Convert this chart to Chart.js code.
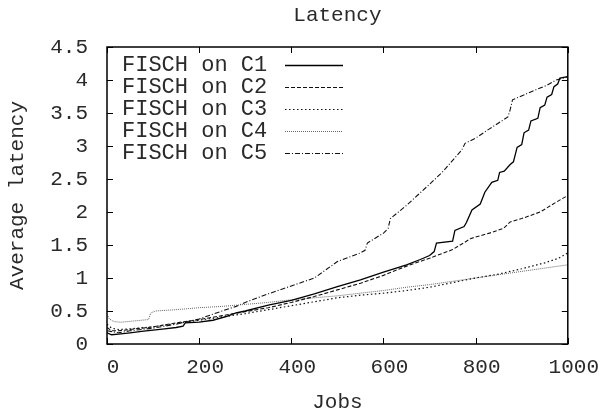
<!DOCTYPE html>
<html>
<head>
<meta charset="utf-8">
<script src="https://cdn.jsdelivr.net/npm/chart.js@4.4.1/dist/chart.umd.min.js"></script>
<style>
  body { margin: 0; background: #fff; }
  canvas { display: block; }
</style>
</head>
<body>
<canvas id="latencyChart" width="606" height="416"></canvas>
<script>
const chartTitle = 'Latency'
const xTitle = 'Jobs'
const yTitle = 'Average latency'
const seriesNames = ['FISCH on C1', 'FISCH on C2', 'FISCH on C3', 'FISCH on C4', 'FISCH on C5']

const jobTicks = [0, 200, 400, 600, 800, 1000]
const latencyTicks = [0, 0.5, 1, 1.5, 2, 2.5, 3, 3.5, 4, 4.5]

// values
const c1Jobs = [0, 10, 25, 50, 75, 100, 125, 150, 165, 170, 200, 230, 260, 280, 300, 350, 400, 450, 500, 550, 600, 650, 680, 700, 710, 715, 750, 755, 775, 780, 792, 810, 820, 835, 848, 852, 862, 875, 882, 890, 900, 905, 915, 920, 935, 940, 950, 955, 965, 970, 978, 983, 1000]
const c1Latency = [0.17, 0.14, 0.15, 0.17, 0.19, 0.21, 0.23, 0.25, 0.27, 0.32, 0.33, 0.36, 0.42, 0.47, 0.5, 0.59, 0.66, 0.76, 0.87, 0.97, 1.09, 1.2, 1.28, 1.34, 1.4, 1.53, 1.56, 1.72, 1.78, 1.84, 2.03, 2.12, 2.3, 2.45, 2.48, 2.6, 2.62, 2.72, 2.76, 2.98, 3.02, 3.2, 3.24, 3.38, 3.42, 3.58, 3.62, 3.74, 3.78, 3.9, 3.94, 4.03, 4.05]

const c2Jobs = [0, 10, 25, 50, 100, 150, 200, 250, 300, 350, 400, 450, 500, 550, 600, 650, 700, 750, 790, 830, 860, 875, 900, 940, 975, 1000]
const c2Latency = [0.25, 0.2, 0.2, 0.22, 0.26, 0.32, 0.37, 0.43, 0.49, 0.55, 0.63, 0.72, 0.82, 0.92, 1.04, 1.18, 1.3, 1.43, 1.6, 1.68, 1.75, 1.85, 1.9, 2.0, 2.15, 2.25]

const c3Jobs = [0, 10, 25, 50, 100, 150, 200, 250, 300, 350, 400, 450, 500, 550, 600, 650, 700, 750, 800, 850, 900, 950, 980, 1000]
const c3Latency = [0.3, 0.24, 0.22, 0.23, 0.26, 0.31, 0.36, 0.41, 0.46, 0.52, 0.58, 0.64, 0.7, 0.74, 0.77, 0.81, 0.86, 0.93, 1.0, 1.06, 1.14, 1.23, 1.3, 1.38]

const c4Jobs = [0, 5, 15, 30, 60, 90, 95, 105, 150, 200, 250, 300, 350, 400, 450, 500, 550, 600, 650, 700, 750, 800, 850, 900, 950, 1000]
const c4Latency = [0.45, 0.38, 0.34, 0.33, 0.35, 0.37, 0.47, 0.5, 0.52, 0.55, 0.57, 0.6, 0.63, 0.67, 0.7, 0.73, 0.77, 0.81, 0.86, 0.9, 0.95, 1.0, 1.05, 1.1, 1.15, 1.2]

const c5Jobs = [0, 25, 50, 100, 150, 200, 250, 280, 300, 350, 400, 450, 500, 550, 560, 565, 600, 610, 615, 650, 700, 730, 770, 777, 800, 830, 870, 875, 880, 930, 955, 975, 1000]
const c5Latency = [0.2, 0.17, 0.2, 0.24, 0.3, 0.38, 0.5, 0.57, 0.63, 0.76, 0.88, 1.0, 1.25, 1.38, 1.42, 1.53, 1.68, 1.75, 1.9, 2.1, 2.42, 2.62, 2.94, 3.04, 3.12, 3.26, 3.44, 3.55, 3.7, 3.85, 3.92, 4.0, 4.05]

const fontFamily = '"Liberation Mono", "Courier New", monospace'
const textColor = '#2a2a2a'

const toPoints = (xs, ys) => xs.map((x, i) => ({x: x, y: ys[i]}))

const lineStyles = [
    {color: '#000', width: 1.3, dash: []},
    {color: '#111', width: 1.1, dash: [4, 2]},
    {color: '#111', width: 1.2, dash: [1.5, 2.5]},
    {color: '#666', width: 1, dash: [1, 1]},
    {color: '#111', width: 1.1, dash: [5, 2, 1, 2]},
]

const seriesData = [
    toPoints(c1Jobs, c1Latency),
    toPoints(c2Jobs, c2Latency),
    toPoints(c3Jobs, c3Latency),
    toPoints(c4Jobs, c4Latency),
    toPoints(c5Jobs, c5Latency),
]

// gnuplot style frame, inward ticks and title
const framePlugin = {
    id: 'frame',
    afterDraw(chart) {
        const {ctx, chartArea: a, scales: {x, y}} = chart
        ctx.save()
        ctx.strokeStyle = '#000'
        ctx.lineWidth = 1
        ctx.beginPath()
        x.ticks.forEach(t => {
            const px = Math.round(x.getPixelForValue(t.value)) + 0.5
            ctx.moveTo(px, a.bottom); ctx.lineTo(px, a.bottom - 6)
            ctx.moveTo(px, a.top); ctx.lineTo(px, a.top + 6)
        })
        y.ticks.forEach(t => {
            const py = Math.round(y.getPixelForValue(t.value)) + 0.5
            ctx.moveTo(a.left, py); ctx.lineTo(a.left + 6, py)
            ctx.moveTo(a.right, py); ctx.lineTo(a.right - 6, py)
        })
        ctx.stroke()
        ctx.lineWidth = 1.5
        ctx.strokeRect(a.left, a.top, a.right - a.left, a.bottom - a.top)

        ctx.fillStyle = textColor
        ctx.font = '21px ' + fontFamily
        ctx.textAlign = 'center'
        ctx.textBaseline = 'middle'
        ctx.fillText(chartTitle, (a.left + a.right) / 2, 15)
        ctx.restore()
    }
}

// legend: text first, line sample after it
const legendPlugin = {
    id: 'gnuLegend',
    afterDraw(chart) {
        const {ctx, chartArea: a} = chart
        ctx.save()
        ctx.font = '22px ' + fontFamily
        ctx.fillStyle = textColor
        ctx.textAlign = 'left'
        ctx.textBaseline = 'middle'
        chart.data.datasets.forEach((ds, i) => {
            const rowY = a.top + 18 + i * 22
            ctx.fillText(ds.label, a.left + 15, rowY)
            ctx.strokeStyle = ds.borderColor
            ctx.lineWidth = ds.borderWidth
            ctx.setLineDash(ds.borderDash)
            ctx.beginPath()
            ctx.moveTo(a.left + 178, rowY + 0.5)
            ctx.lineTo(a.left + 236, rowY + 0.5)
            ctx.stroke()
        })
        ctx.restore()
    }
}

const ctx = document.getElementById('latencyChart').getContext('2d')

const chart = new Chart(ctx, {
    type: 'line',
    data: {
        datasets: seriesNames.map((name, i) => ({
            label: name,
            data: seriesData[i],
            borderColor: lineStyles[i].color,
            borderWidth: lineStyles[i].width,
            borderDash: lineStyles[i].dash,
            pointRadius: 0,
            tension: 0,
            fill: false,
        }))
    },
    options: {
        responsive: false,
        animation: false,
        devicePixelRatio: 1,
        layout: {padding: {top: 47, right: 32, bottom: 0, left: 0}},
        plugins: {
            legend: {display: false},
            title: {display: false},
            tooltip: {enabled: false},
        },
        scales: {
            x: {
                type: 'linear',
                min: 0,
                max: 1000,
                afterBuildTicks: scale => { scale.ticks = jobTicks.map(v => ({value: v})) },
                afterFit: scale => { scale.height = 72 },
                grid: {display: false, drawTicks: false},
                border: {display: false},
                ticks: {
                    autoSkip: false,
                    maxRotation: 0,
                    padding: 13,
                    labelOffset: 6,
                    color: textColor,
                    font: {family: fontFamily, size: 21, lineHeight: 1},
                    callback: value => String(value),
                },
                title: {
                    display: true,
                    text: xTitle,
                    color: textColor,
                    padding: {top: 0, bottom: 3},
                    font: {family: fontFamily, size: 21, lineHeight: 1},
                },
            },
            y: {
                type: 'linear',
                min: 0,
                max: 4.5,
                afterBuildTicks: scale => { scale.ticks = latencyTicks.map(v => ({value: v})) },
                afterFit: scale => { scale.width = 107 },
                grid: {display: false, drawTicks: false},
                border: {display: false},
                ticks: {
                    autoSkip: false,
                    padding: 19,
                    color: textColor,
                    font: {family: fontFamily, size: 21, lineHeight: 1},
                    callback: value => String(value),
                },
                title: {
                    display: true,
                    text: yTitle,
                    color: textColor,
                    padding: {top: 7, bottom: 0},
                    font: {family: fontFamily, size: 21, lineHeight: 1},
                },
            },
        },
    },
    plugins: [framePlugin, legendPlugin],
})
</script>
</body>
</html>
